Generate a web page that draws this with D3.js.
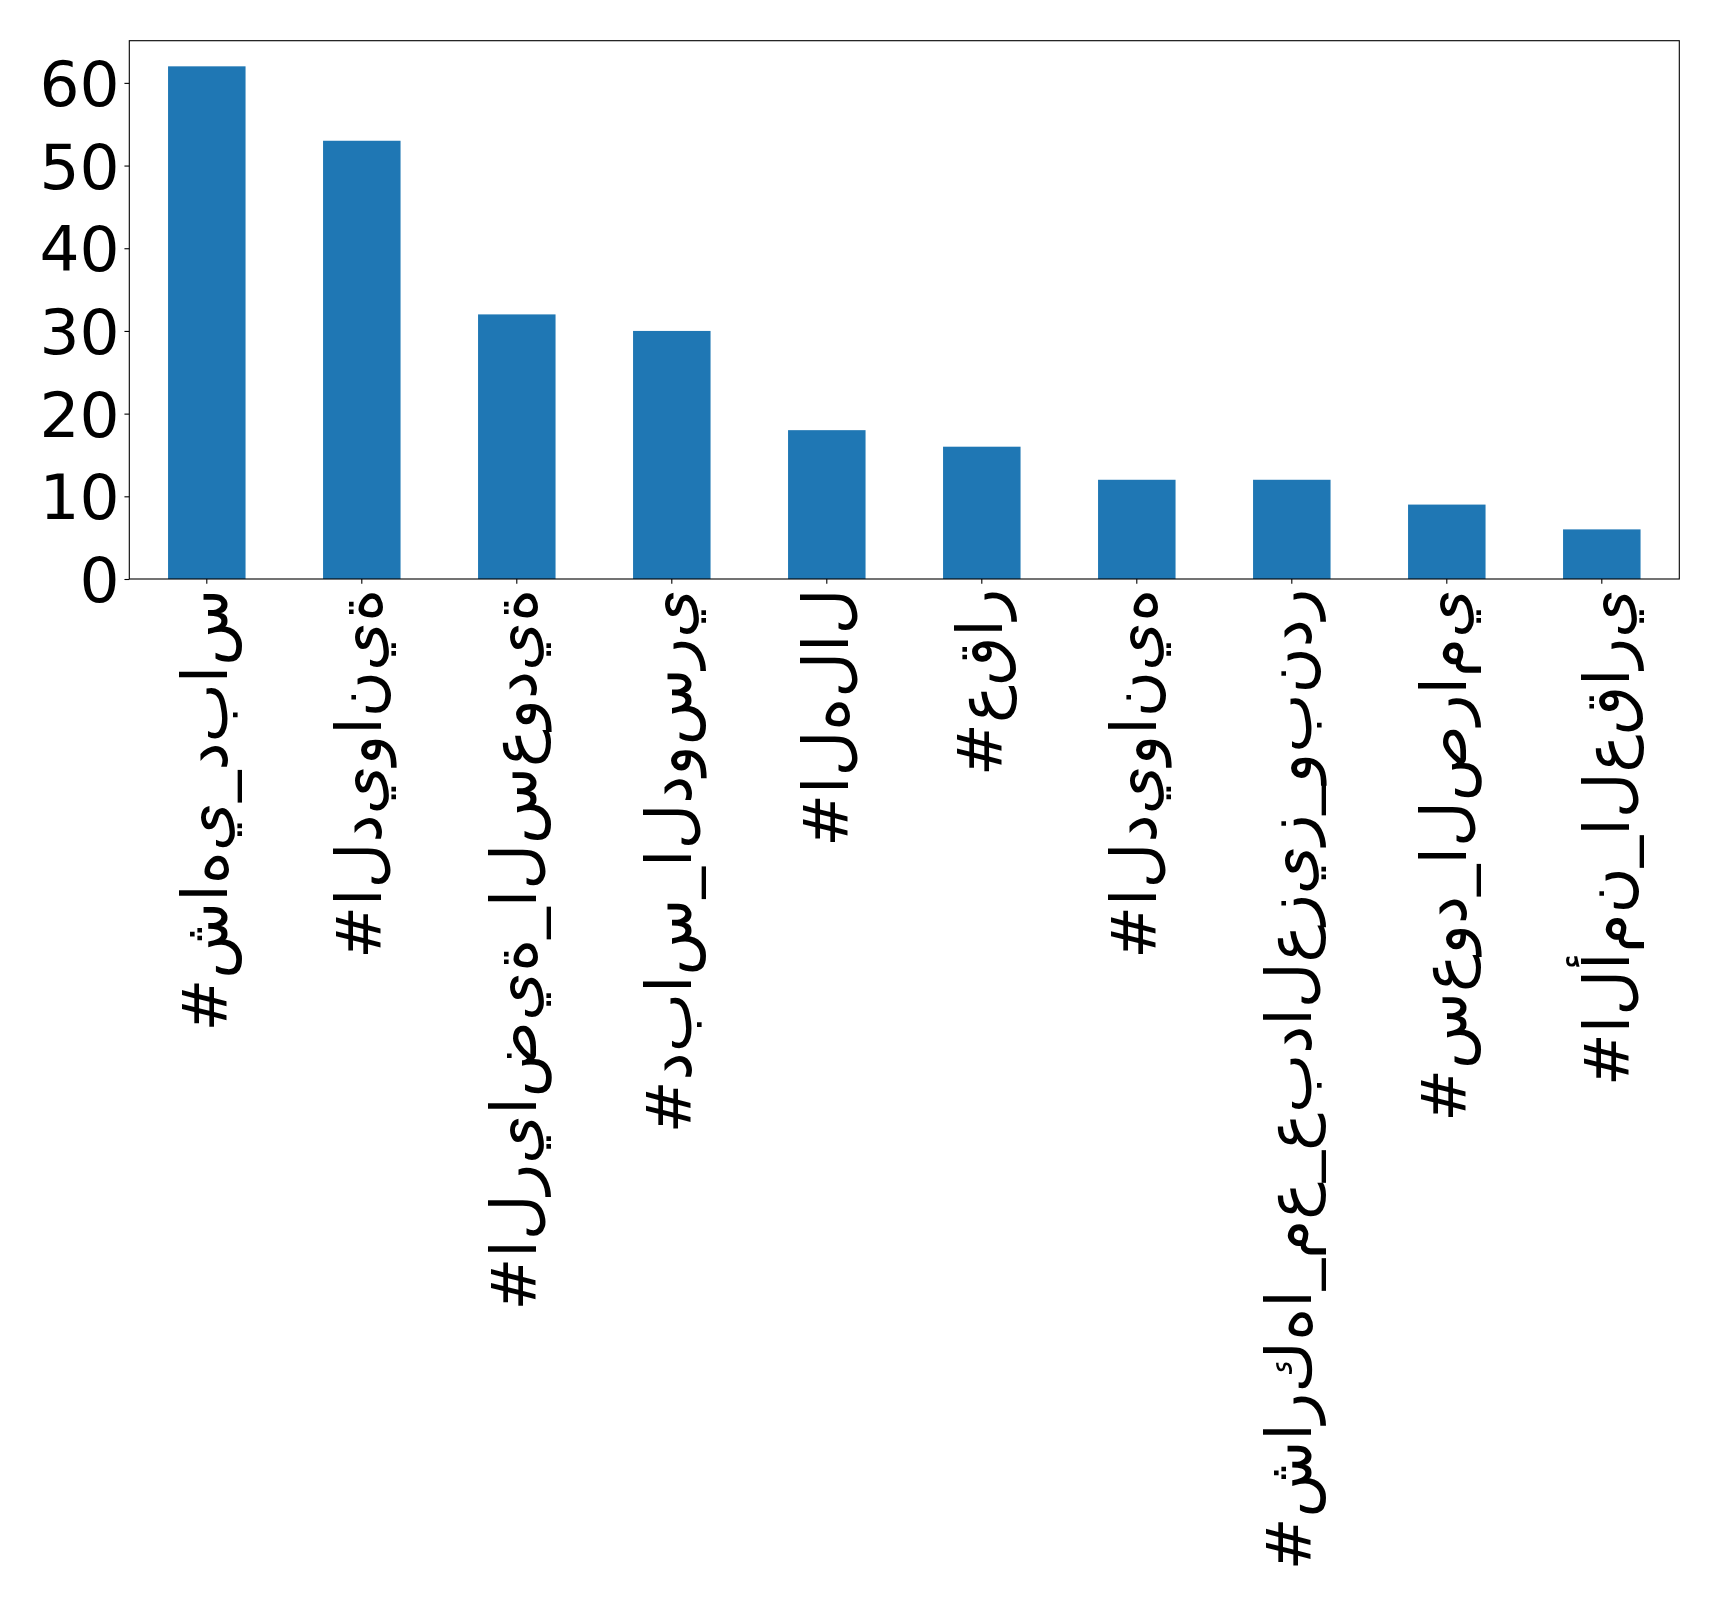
<!DOCTYPE html>
<html>
<head>
<meta charset="utf-8">
<script src="https://cdn.jsdelivr.net/npm/d3@7"></script>
<style>
  html, body { margin: 0; padding: 0; background: #ffffff; }
  svg { display: block; }
  text { font-family: "DejaVu Sans", sans-serif; fill: #000; }
</style>
</head>
<body>
<div id="chart"></div>
<script>
// Hashtag counts
const categories = [
  "#شاهي_دباس",
  "#الديوانية",
  "#الرياضية_السعودية",
  "#دباس_الدوسري",
  "#الهلال",
  "#عقار",
  "#الديوانيه",
  "#شاركها_مع_عبدالعزيز_وبندر",
  "#سعود_الصرامي",
  "#الأمن_العقاري"
];
const counts = [62, 53, 32, 30, 18, 16, 12, 12, 9, 6];
const yTicks = [0, 10, 20, 30, 40, 50, 60];

const W = 1719, H = 1603;
const plot = { left: 129.3, right: 1679.3, top: 40.7, bottom: 579 };
const fontSize = 63;
const tickLen = 4.86, tickPad = 4.86;
const barColor = "#1f77b4";

// letters kept unjoined and laid out left to right
const unjoined = s => "\u202D" + Array.from(s).join("\u200C") + "\u202C";

const svg = d3.select("#chart").append("svg")
  .attr("width", W).attr("height", H);

const x = d3.scaleBand()
  .domain(d3.range(categories.length))
  .range([plot.left, plot.right])
  .paddingInner(0.5)
  .paddingOuter(0.25);

const y = d3.scaleLinear()
  .domain([0, d3.max(counts) * 1.05])
  .range([plot.bottom, plot.top]);

// bars
svg.append("g").selectAll("rect")
  .data(counts)
  .join("rect")
  .attr("x", (d, i) => x(i))
  .attr("width", x.bandwidth())
  .attr("y", d => y(d))
  .attr("height", d => y(0) - y(d))
  .attr("fill", barColor);

// y axis
const yAxis = svg.append("g")
  .attr("transform", `translate(${plot.left},0)`)
  .call(d3.axisLeft(y).tickValues(yTicks).tickSize(tickLen).tickPadding(tickPad));
yAxis.select(".domain").remove();
yAxis.selectAll("line").attr("stroke", "#000").attr("stroke-width", 1.1);
yAxis.selectAll("text")
  .attr("font-size", fontSize)
  .attr("font-family", "DejaVu Sans")
  .attr("dy", "0.36em")
  .attr("fill", "#000");

// centre each rotated label on its ink extent (taller marks such as hamza shift it)
const ctx = document.createElement("canvas").getContext("2d");
ctx.font = `${fontSize}px "DejaVu Sans"`;
const lp = ctx.measureText("lp");
function inkOffset(s) {
  const m = ctx.measureText(unjoined(s));
  const a = Math.max(m.actualBoundingBoxAscent || 0, lp.actualBoundingBoxAscent || 0);
  const d = Math.max(m.actualBoundingBoxDescent || 0, lp.actualBoundingBoxDescent || 0);
  return (a - d) / 2;
}
const refOffset = inkOffset(categories[6]);
const baseShift = 0.31 * fontSize;

// x axis ticks and rotated labels
const xAxis = svg.append("g")
  .attr("transform", `translate(0,${plot.bottom})`)
  .call(d3.axisBottom(x).tickSize(tickLen).tickPadding(tickPad)
    .tickFormat(i => unjoined(categories[i])));
xAxis.select(".domain").remove();
xAxis.selectAll("line").attr("stroke", "#000").attr("stroke-width", 1.1);
xAxis.selectAll("text")
  .attr("font-size", fontSize)
  .attr("font-family", "DejaVu Sans")
  .attr("fill", "#000")
  .attr("text-anchor", "end")
  .attr("direction", "ltr")
  .attr("y", 0)
  .attr("dy", i => baseShift + (inkOffset(categories[i]) - refOffset))
  .attr("transform", `translate(0,${tickLen + tickPad}) rotate(-90)`);

// frame
svg.append("rect")
  .attr("x", plot.left).attr("y", plot.top)
  .attr("width", plot.right - plot.left)
  .attr("height", plot.bottom - plot.top)
  .attr("fill", "none")
  .attr("stroke", "#000")
  .attr("stroke-width", 1.1);
</script>
</body>
</html>
